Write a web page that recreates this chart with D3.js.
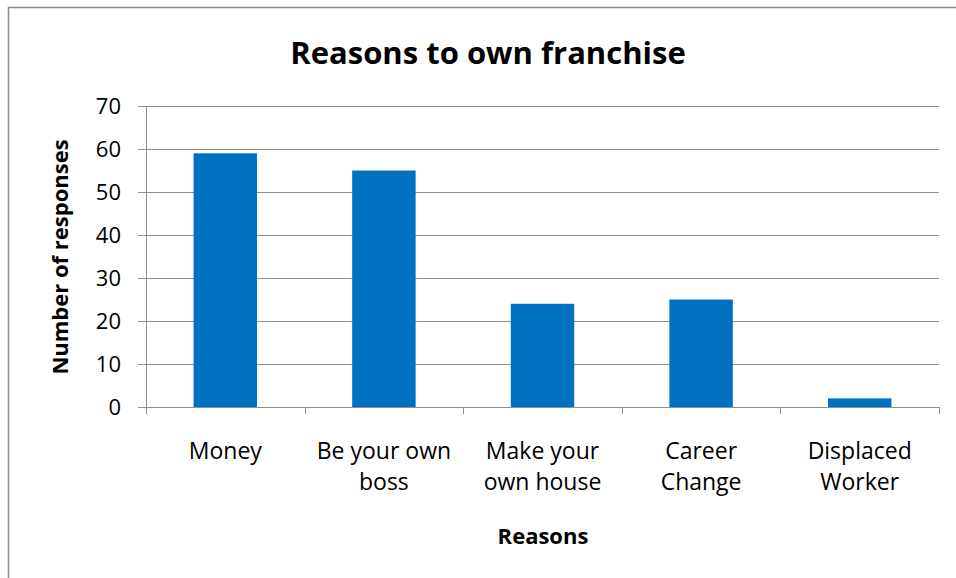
<!DOCTYPE html>
<html>
<head>
<meta charset="utf-8">
<script src="https://cdn.jsdelivr.net/npm/d3@7"></script>
<style>
  html, body { margin: 0; padding: 0; background: #fff; }
  svg { display: block; }
  text { font-family: "Open Sans", Lato, sans-serif; fill: #000; }
</style>
</head>
<body>
<svg id="chart" width="956" height="578"></svg>
<script>
// Survey responses by reason for owning a franchise
const categories = [
  ["Money"],
  ["Be your own", "boss"],
  ["Make your", "own house"],
  ["Career", "Change"],
  ["Displaced", "Worker"]
];
const responses = [59, 55, 24, 25, 2];
const yTicks = [0, 10, 20, 30, 40, 50, 60, 70];
const titleText = "Reasons to own franchise";
const xTitle = "Reasons";
const yTitle = "Number of responses";

const svg = d3.select("#chart");
const W = 956, H = 578;
const plot = { left: 146, right: 939, top: 106, bottom: 407 };

// outer chart border (runs off the right and bottom edges)
svg.append("path")
  .attr("d", `M8.5,${H + 2} V7.5 H${W + 2}`)
  .attr("fill", "none")
  .attr("stroke", "#8c8c8c")
  .attr("stroke-width", 1.5);

const x = d3.scaleBand()
  .domain(d3.range(categories.length))
  .range([plot.left, plot.right])
  .paddingInner(0.6)
  .paddingOuter(0.3);

const xOuter = d3.scaleBand()
  .domain(d3.range(categories.length))
  .range([plot.left, plot.right]);

const y = d3.scaleLinear().domain([0, 70]).range([plot.bottom, plot.top]);

// horizontal gridlines
svg.append("g")
  .selectAll("line")
  .data(yTicks)
  .join("line")
  .attr("x1", plot.left - 8)
  .attr("x2", plot.right)
  .attr("y1", d => Math.round(y(d)) + 0.5)
  .attr("y2", d => Math.round(y(d)) + 0.5)
  .attr("stroke", "#8f8f8f")
  .attr("stroke-width", 1);

// y tick labels
svg.append("g")
  .selectAll("text")
  .data(yTicks)
  .join("text")
  .attr("x", 121)
  .attr("y", d => y(d))
  .attr("dy", "0.36em")
  .attr("text-anchor", "end")
  .attr("font-size", 22)
  .text(d => d);

// bars
svg.append("g")
  .selectAll("rect")
  .data(responses)
  .join("rect")
  .attr("x", (d, i) => x(i))
  .attr("y", d => y(d))
  .attr("width", x.bandwidth())
  .attr("height", d => plot.bottom - y(d))
  .attr("fill", "#0070c0");

// y axis line
svg.append("line")
  .attr("x1", plot.left + 0.5).attr("x2", plot.left + 0.5)
  .attr("y1", plot.top).attr("y2", plot.bottom + 7)
  .attr("stroke", "#8f8f8f");

// x axis category boundary ticks
const bounds = d3.range(categories.length + 1).map(i =>
  i < categories.length ? xOuter(i) : plot.right);
svg.append("g")
  .selectAll("line")
  .data(bounds)
  .join("line")
  .attr("x1", d => Math.round(d) + 0.5)
  .attr("x2", d => Math.round(d) + 0.5)
  .attr("y1", plot.bottom)
  .attr("y2", plot.bottom + 7)
  .attr("stroke", "#8f8f8f");

// x category labels
const xl = svg.append("g")
  .selectAll("text")
  .data(categories)
  .join("text")
  .attr("text-anchor", "middle")
  .attr("font-size", 23)
  .attr("x", (d, i) => xOuter(i) + xOuter.bandwidth() / 2)
  .attr("y", 459);
xl.selectAll("tspan")
  .data(d => d)
  .join("tspan")
  .attr("x", function () { return d3.select(this.parentNode).attr("x"); })
  .attr("dy", (d, i) => i === 0 ? 0 : 31)
  .text(d => d);

// titles
svg.append("text")
  .attr("x", 488).attr("y", 64)
  .attr("text-anchor", "middle")
  .attr("font-size", 31).attr("font-weight", "bold")
  .text(titleText);

svg.append("text")
  .attr("x", 543).attr("y", 544)
  .attr("text-anchor", "middle")
  .attr("font-size", 22).attr("font-weight", "bold")
  .text(xTitle);

svg.append("text")
  .attr("transform", "translate(68,257) rotate(-90)")
  .attr("text-anchor", "middle")
  .attr("font-size", 22).attr("font-weight", "bold")
  .text(yTitle);
</script>
</body>
</html>
